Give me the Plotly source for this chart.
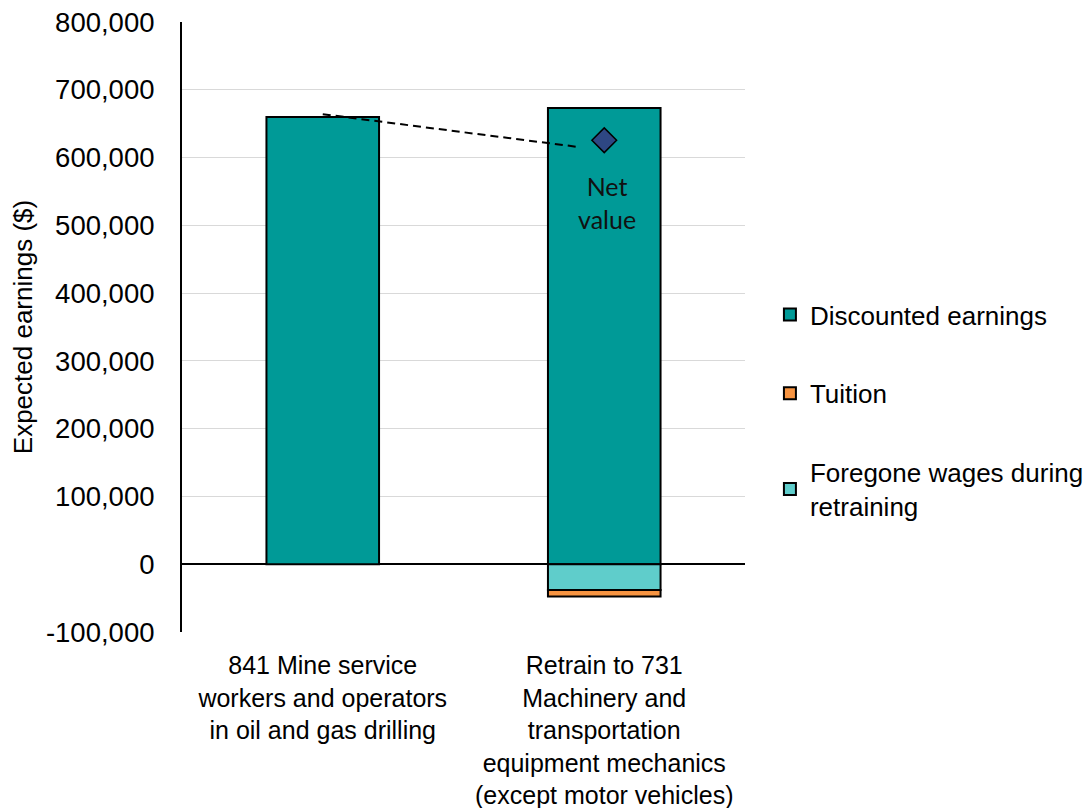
import plotly.graph_objects as go

# Categories (occupations) on the x axis
categories = [
    "841 Mine service<br>workers and operators<br>in oil and gas drilling",
    "Retrain to 731<br>Machinery and<br>transportation<br>equipment mechanics<br>(except motor vehicles)",
]

# Components of expected earnings ($)
discounted_earnings = [660000, 673000]
foregone_wages = [0, -38000]
tuition = [0, -9500]
net_value = sum(v[1] for v in (discounted_earnings, foregone_wages, tuition))

# Y axis ticks
y_tick_vals = [800000, 700000, 600000, 500000, 400000, 300000, 200000, 100000, 0, -100000]
y_tick_text = ["800,000", "700,000", "600,000", "500,000", "400,000",
               "300,000", "200,000", "100,000", "0", "-100,000"]

FONT = "Liberation Sans, Arial, sans-serif"
TEAL = "#009A97"
LIGHT_TEAL = "#5FCDCB"
ORANGE = "#F79441"
NAVY = "#2E4783"

fig = go.Figure()

fig.add_trace(go.Bar(
    x=categories, y=discounted_earnings, name="Discounted earnings",
    marker=dict(color=TEAL, line=dict(color="black", width=2)),
    width=0.4, legendgroup="a", legendrank=1,
))
fig.add_trace(go.Bar(
    x=categories, y=foregone_wages, name="Foregone wages during<br>retraining",
    marker=dict(color=LIGHT_TEAL, line=dict(color="black", width=2)),
    width=0.4, legendgroup="c", legendrank=3,
))
fig.add_trace(go.Bar(
    x=categories, y=tuition, name="Tuition",
    marker=dict(color=ORANGE, line=dict(color="black", width=2)),
    width=0.4, legendgroup="b", legendrank=2,
))

# Net value marker for the retraining option
fig.add_trace(go.Scatter(
    x=[categories[1]], y=[net_value], mode="markers", showlegend=False,
    marker=dict(symbol="diamond", size=19, color=NAVY,
                line=dict(color="black", width=1.5)),
))

# Dashed connector from the current occupation to the net value
fig.add_shape(
    type="line", xref="x", yref="y",
    x0=0, y0=discounted_earnings[0] + 4000, x1=0.91, y1=net_value - 10000,
    line=dict(color="black", width=2, dash="8px,5px"),
)

fig.add_annotation(
    x=categories[1], y=net_value, yref="y", xref="x",
    text="Net<br>value", showarrow=False, yanchor="top", yshift=-29, xshift=3,
    font=dict(family="Lato, Open Sans, sans-serif", size=25, color="#111111"),
)

fig.update_layout(
    width=1089, height=808,
    margin=dict(l=182, r=344, t=22, b=176, autoexpand=False),
    plot_bgcolor="white", paper_bgcolor="white",
    barmode="relative",
    font=dict(family=FONT, size=25, color="black"),
    showlegend=True,
    legend=dict(
        xref="container", x=0.707, y=0.363, xanchor="left", yanchor="middle",
        traceorder="grouped", tracegroupgap=42,
        font=dict(family=FONT, size=26, color="black"),
        itemwidth=30,
    ),
    xaxis=dict(
        showline=False, showgrid=False, ticks="", ticklabelstandoff=16,
        tickfont=dict(family=FONT, size=25, color="black"),
    ),
    yaxis=dict(
        range=[-100000, 800000],
        tickvals=y_tick_vals, ticktext=y_tick_text,
        showgrid=True, gridcolor="#D9D9D9", gridwidth=1,
        zeroline=True, zerolinecolor="black", zerolinewidth=1.5,
        showline=True, linecolor="black", linewidth=2,
        ticks="", ticklabelstandoff=20,
        tickfont=dict(family=FONT, size=27.5, color="black"),
        title=dict(text="Expected earnings ($)", standoff=6,
                   font=dict(family=FONT, size=26, color="black")),
    ),
)

fig.write_html("out.html")
